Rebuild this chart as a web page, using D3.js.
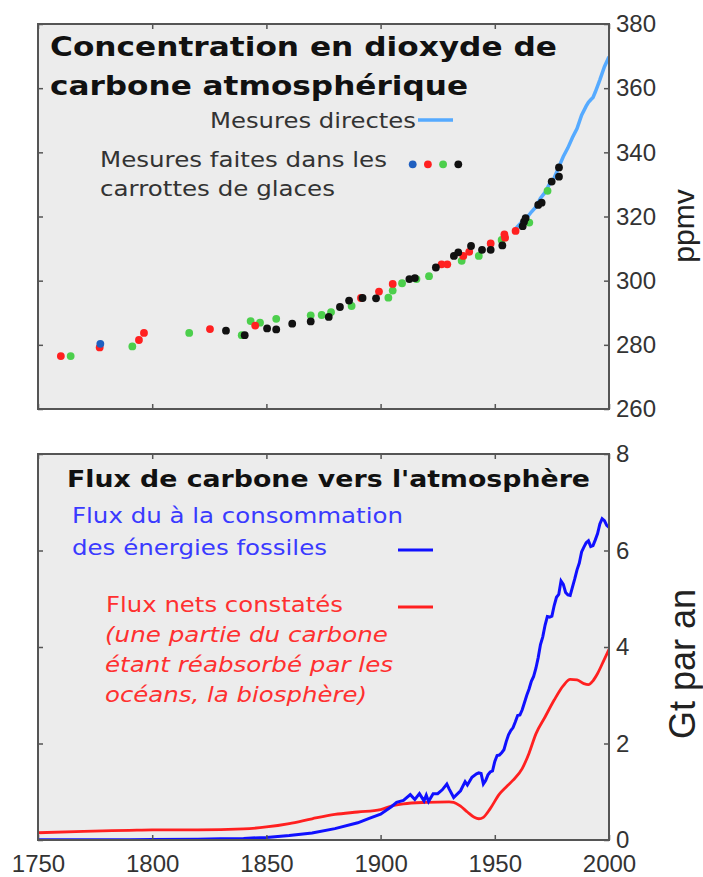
<!DOCTYPE html>
<html>
<head>
<meta charset="utf-8">
<script src="https://cdn.jsdelivr.net/npm/d3@7"></script>
<style>
  body { margin: 0; background: #fff; }
  svg { display: block; }
</style>
</head>
<body>
<div id="chart"></div>
<script>
// ice core measurements, [year, ppmv], by core
var iceBlue = [[1777.3, 280.3]];
var iceRed = [[1760, 276.5], [1777, 279.2], [1794.2, 281.5], [1796.4, 283.7], [1825.3, 284.9],
  [1845.1, 286], [1891.4, 294.6], [1899.3, 296.6], [1905.3, 299], [1926.7, 305.1], [1929.2, 305.1],
  [1936.2, 307.7], [1938.8, 309], [1948.2, 311.6], [1954.2, 314.4], [1954.5, 313.4], [1959.1, 315.5]];
var iceGreen = [[1764.3, 276.5], [1791.3, 279.5], [1816.2, 283.7], [1839.2, 283], [1843.1, 287.4],
  [1847.2, 286.9], [1854.3, 288.1], [1869.4, 289.2], [1874.2, 289.3], [1878.3, 290.2], [1887.3, 292.1],
  [1903.4, 294.7], [1905.3, 296.9], [1909.4, 299.2], [1915.7, 300.5], [1921.2, 301.4], [1935.5, 306.2],
  [1943, 307.7], [1953, 312.7], [1965.1, 318.1], [1973.1, 328]];
var iceBlack = [[1832.3, 284.4], [1840.5, 283], [1850.3, 285.1], [1854.3, 284.8], [1861.3, 286.6],
  [1869.4, 287.3], [1877.3, 288.7], [1882.2, 291.8], [1886.2, 293.8], [1892.1, 294.6], [1898, 294.5],
  [1912.6, 300.5], [1915, 300.8], [1924.2, 304.1], [1932.1, 307.7], [1934, 308.8], [1939.6, 310.8],
  [1944.4, 309.6], [1948.2, 309.6], [1953.3, 311], [1962.2, 317], [1962.8, 318.4], [1963.5, 319.5],
  [1969, 323.6], [1970.5, 324.3], [1974.9, 330.9], [1978.1, 332.4], [1978.1, 335.3]];

// direct measurements (Mauna Loa), [year, ppmv]
var direct = [[1958, 315.3], [1960, 316.9], [1962, 318.4], [1964, 319.6], [1966, 321.4], [1968, 323.0],
  [1970, 325.7], [1972, 327.5], [1974, 330.2], [1976, 332.0], [1978, 335.4], [1980, 338.7],
  [1982, 341.4], [1984, 344.6], [1986, 347.4], [1988, 351.6], [1990, 354.4], [1991, 355.6],
  [1992, 356.4], [1993, 357.1], [1994, 358.8], [1996, 362.6], [1998, 366.7], [2000, 369.8]];

// carbon flux, [year, Gt/yr]
var fossil = [[1750, 0.003], [1770, 0.004], [1790, 0.007], [1800, 0.01], [1820, 0.014], [1830, 0.024],
  [1840, 0.033], [1850, 0.054], [1860, 0.091], [1870, 0.147], [1880, 0.236], [1890, 0.356],
  [1895, 0.45], [1900, 0.534], [1905, 0.70], [1907, 0.78], [1910, 0.82], [1913, 0.94], [1915, 0.84],
  [1917, 0.96], [1919, 0.81], [1920, 0.93], [1921, 0.80], [1923, 0.96], [1925, 0.96], [1927, 1.04],
  [1929, 1.16], [1930, 1.06], [1932, 0.88], [1935, 1.02], [1937, 1.21], [1938, 1.14], [1940, 1.30],
  [1942, 1.37], [1943, 1.39], [1944, 1.38], [1945, 1.16], [1946, 1.23], [1947, 1.35], [1948, 1.41],
  [1949, 1.43], [1950, 1.63], [1951, 1.75], [1952, 1.76], [1953, 1.81], [1954, 1.87], [1955, 2.04],
  [1956, 2.18], [1957, 2.27], [1958, 2.33], [1959, 2.45], [1960, 2.58], [1961, 2.59], [1962, 2.70],
  [1963, 2.85], [1964, 3.00], [1965, 3.13], [1966, 3.29], [1967, 3.39], [1968, 3.56], [1969, 3.78],
  [1970, 4.05], [1971, 4.21], [1972, 4.45], [1973, 4.63], [1974, 4.62], [1975, 4.64], [1976, 4.86],
  [1977, 5.03], [1978, 5.09], [1979, 5.37], [1980, 5.30], [1981, 5.13], [1982, 5.08], [1983, 5.07],
  [1984, 5.24], [1985, 5.41], [1986, 5.60], [1987, 5.74], [1988, 5.97], [1989, 6.07], [1990, 6.16],
  [1991, 6.20], [1992, 6.08], [1993, 6.10], [1994, 6.22], [1995, 6.35], [1996, 6.55], [1997, 6.66],
  [1998, 6.62], [1999, 6.52], [2000, 6.48]];
var netFlux = [[1750, 0.15], [1770, 0.18], [1790, 0.2], [1800, 0.21], [1820, 0.21], [1840, 0.23],
  [1850, 0.27], [1860, 0.34], [1870, 0.44], [1880, 0.53], [1890, 0.58], [1900, 0.63], [1905, 0.71],
  [1910, 0.75], [1920, 0.78], [1930, 0.79], [1932, 0.78], [1935, 0.70], [1938, 0.58], [1941, 0.47],
  [1943, 0.44], [1945, 0.47], [1948, 0.65], [1952, 0.95], [1955, 1.10], [1958, 1.24], [1962, 1.48],
  [1965, 1.80], [1968, 2.20], [1972, 2.55], [1976, 2.90], [1980, 3.20], [1983, 3.33], [1986, 3.32],
  [1989, 3.24], [1991, 3.22], [1993, 3.30], [1995, 3.45], [1998, 3.75], [2000, 3.95]];

var yearTicks = [1750, 1800, 1850, 1900, 1950, 2000];
var ppmTicks = [260, 280, 300, 320, 340, 360, 380];
var fluxTicks = [0, 2, 4, 6, 8];

var width = 703, height = 877;
var left = 38, right = 609;
var top1 = 24, bottom1 = 409, top2 = 454, bottom2 = 840;
var panelFill = "#ececec", frameColor = "#555";

var svg = d3.select("#chart").append("svg")
  .attr("width", width)
  .attr("height", height);

var x = d3.scaleLinear().domain([1750, 2000]).range([left, right]);
var y1 = d3.scaleLinear().domain([260, 380]).range([bottom1, top1]);
var y2 = d3.scaleLinear().domain([0, 8]).range([bottom2, top2]);

function panel(top, bottom, id) {
  svg.append("rect")
    .attr("x", left).attr("y", top)
    .attr("width", right - left).attr("height", bottom - top)
    .attr("fill", panelFill);
  svg.append("clipPath").attr("id", id)
    .append("rect")
    .attr("x", left).attr("y", top)
    .attr("width", right - left).attr("height", bottom - top);
}

function frame(top, bottom, yScale, ticks, labelX) {
  var g = svg.append("g").attr("class", "axes");
  g.append("g").attr("transform", "translate(0," + top + ")")
    .call(d3.axisTop(x).tickValues(yearTicks).tickSize(-5).tickFormat(""));
  g.append("g").attr("transform", "translate(0," + bottom + ")")
    .call(d3.axisBottom(x).tickValues(yearTicks).tickSize(-5).tickPadding(15)
      .tickFormat(labelX ? d3.format("d") : ""));
  g.append("g").attr("transform", "translate(" + left + ",0)")
    .call(d3.axisLeft(yScale).tickValues(ticks).tickSize(-5).tickFormat(""));
  g.append("g").attr("transform", "translate(" + right + ",0)")
    .call(d3.axisRight(yScale).tickValues(ticks).tickSize(-5).tickPadding(7));
  g.selectAll(".domain").remove();
  g.selectAll(".tick line").attr("stroke", frameColor).attr("stroke-width", 1.5);
  g.selectAll(".tick text")
    .attr("font-family", "Liberation Sans, Arial, sans-serif")
    .attr("font-size", 24)
    .attr("fill", "#333");
  svg.append("rect")
    .attr("x", left).attr("y", top)
    .attr("width", right - left).attr("height", bottom - top)
    .attr("fill", "none")
    .attr("stroke", frameColor)
    .attr("stroke-width", 2);
}

function label(str, px, py, opts) {
  var t = svg.append("text")
    .attr("x", px).attr("y", py)
    .attr("font-family", "DejaVu Sans, sans-serif")
    .attr("font-size", opts.size)
    .attr("font-weight", opts.bold ? "bold" : "normal")
    .attr("font-style", opts.italic ? "italic" : "normal")
    .attr("fill", opts.color || "#222")
    .text(str);
  if (opts.len) t.attr("textLength", opts.len).attr("lengthAdjust", "spacingAndGlyphs");
  return t;
}

// ---- top panel: CO2 concentration
panel(top1, bottom1, "clip1");

var line1 = d3.line().x(function(d) { return x(d[0]); }).y(function(d) { return y1(d[1]); });
svg.append("path")
  .datum(direct)
  .attr("clip-path", "url(#clip1)")
  .attr("d", line1)
  .attr("fill", "none")
  .attr("stroke", "#55aaff")
  .attr("stroke-width", 3.5);

var cores = [
  { data: iceGreen, color: "#4ccf4c" },
  { data: iceRed, color: "#ff2020" },
  { data: iceBlue, color: "#1f5fc0" },
  { data: iceBlack, color: "#111" }
];
cores.forEach(function(c) {
  svg.append("g").selectAll("circle")
    .data(c.data)
    .enter().append("circle")
    .attr("cx", function(d) { return x(d[0]); })
    .attr("cy", function(d) { return y1(d[1]); })
    .attr("r", 3.9)
    .attr("fill", c.color);
});

frame(top1, bottom1, y1, ppmTicks, false);

label("Concentration en dioxyde de", 50, 56, { size: 27, bold: true, color: "#111", len: 507 });
label("carbone atmosphérique", 50, 95, { size: 27, bold: true, color: "#111", len: 418 });
label("Mesures directes", 210, 128, { size: 22, color: "#333", len: 206 });
svg.append("line")
  .attr("x1", 418).attr("x2", 453).attr("y1", 120).attr("y2", 120)
  .attr("stroke", "#55aaff").attr("stroke-width", 3.5);
label("Mesures faites dans les", 100, 167, { size: 22, color: "#333", len: 287 });
label("carrottes de glaces", 100, 196, { size: 22, color: "#333", len: 235 });
["#1f5fc0", "#ff2020", "#4ccf4c", "#111"].forEach(function(c, i) {
  svg.append("circle")
    .attr("cx", 412.7 + i * 15.2).attr("cy", 164.3)
    .attr("r", 3.9).attr("fill", c);
});

svg.append("text")
  .attr("transform", "translate(694,226) rotate(-90)")
  .attr("text-anchor", "middle")
  .attr("font-family", "Liberation Sans, Arial, sans-serif")
  .attr("font-size", 30)
  .attr("fill", "#222")
  .text("ppmv");

// ---- bottom panel: carbon flux
panel(top2, bottom2, "clip2");

var line2 = d3.line().x(function(d) { return x(d[0]); }).y(function(d) { return y2(d[1]); });
svg.append("path")
  .datum(netFlux)
  .attr("clip-path", "url(#clip2)")
  .attr("d", line2.curve(d3.curveMonotoneX))
  .attr("fill", "none")
  .attr("stroke", "#ff2020")
  .attr("stroke-width", 2.8);
svg.append("path")
  .datum(fossil)
  .attr("clip-path", "url(#clip2)")
  .attr("d", d3.line().x(function(d) { return x(d[0]); }).y(function(d) { return y2(d[1]); }))
  .attr("fill", "none")
  .attr("stroke", "#1010ff")
  .attr("stroke-width", 3);

frame(top2, bottom2, y2, fluxTicks, true);

label("Flux de carbone vers l'atmosphère", 67, 487, { size: 23, bold: true, color: "#111", len: 523 });
label("Flux du à la consommation", 72, 523, { size: 21, color: "#3a3aff", len: 331 });
label("des énergies fossiles", 72, 555, { size: 21, color: "#3a3aff", len: 255 });
svg.append("line")
  .attr("x1", 398).attr("x2", 433).attr("y1", 550).attr("y2", 550)
  .attr("stroke", "#1010ff").attr("stroke-width", 3);
label("Flux nets constatés", 106, 612, { size: 21, color: "#ff3030", len: 237 });
svg.append("line")
  .attr("x1", 398).attr("x2", 433).attr("y1", 607).attr("y2", 607)
  .attr("stroke", "#ff2020").attr("stroke-width", 3);
label("(une partie du carbone", 105, 642, { size: 21, italic: true, color: "#ff3030", len: 283 });
label("étant réabsorbé par les", 105, 672, { size: 21, italic: true, color: "#ff3030", len: 288 });
label("océans, la biosphère)", 105, 702, { size: 21, italic: true, color: "#ff3030", len: 262 });

svg.append("text")
  .attr("transform", "translate(695,664) rotate(-90)")
  .attr("text-anchor", "middle")
  .attr("font-family", "Liberation Sans, Arial, sans-serif")
  .attr("font-size", 36)
  .attr("fill", "#222")
  .text("Gt par an");
</script>
</body>
</html>
